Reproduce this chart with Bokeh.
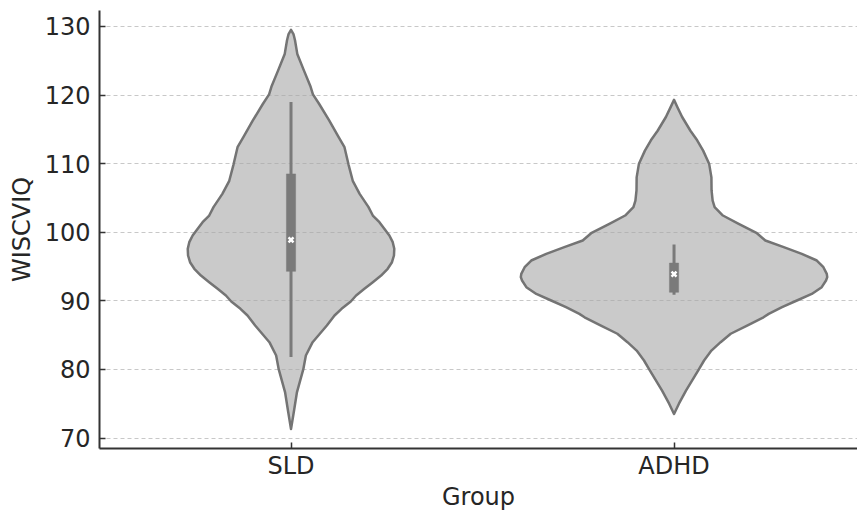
from bokeh.plotting import figure
from bokeh.models import Range1d, FixedTicker
from bokeh.embed import file_html
from bokeh.resources import INLINE

# ---------------- data ----------------
groups = ["SLD", "ADHD"]
group_pos = [0, 1]
y_ticks = [70, 80, 90, 100, 110, 120, 130]

# violin outlines: WISCVIQ value and relative density (widest = 1.0)
sld_values = [129.5, 128.9, 128.0, 126.0, 123.6, 121.2, 120.1, 118.7, 116.3, 113.9,
              112.4, 109.9, 107.5, 105.6, 103.7, 102.44, 101.46, 100.5, 99.52, 98.55,
              97.58, 96.61, 95.63, 94.67, 93.69, 92.72, 91.75, 90.78, 89.9, 88.84,
              87.86, 86.4, 83.97, 82.03, 80.0, 76.7, 73.76, 71.3]
sld_density = [0.0, 0.016, 0.026, 0.041, 0.084, 0.128, 0.143, 0.184, 0.249, 0.31,
               0.349, 0.375, 0.403, 0.448, 0.505, 0.534, 0.577, 0.609, 0.642, 0.664,
               0.674, 0.672, 0.659, 0.631, 0.588, 0.534, 0.479, 0.425, 0.39, 0.33,
               0.284, 0.234, 0.141, 0.097, 0.08, 0.039, 0.018, 0.0]

adhd_values = [119.3, 118.2, 116.8, 114.8, 113.4, 111.9, 110.0, 108.0, 106.1, 104.6,
               103.65, 102.44, 101.23, 99.86, 98.8, 97.82, 96.85, 95.88, 94.9, 93.94,
               93.45, 92.96, 91.99, 91.0, 90.05, 89.07, 88.1, 87.6, 86.4, 85.2,
               83.97, 82.75, 81.3, 80.0, 76.9, 75.0, 73.5]
adhd_density = [0.0, 0.023, 0.053, 0.107, 0.151, 0.19, 0.229, 0.244, 0.245, 0.252,
                0.265, 0.319, 0.422, 0.541, 0.596, 0.716, 0.834, 0.932, 0.975, 0.997,
                1.0, 0.992, 0.964, 0.899, 0.802, 0.705, 0.618, 0.584, 0.477, 0.37,
                0.304, 0.244, 0.196, 0.162, 0.078, 0.032, 0.0]

# box statistics per group
whisker_low = [81.8, 90.9]
q1 = [94.3, 91.25]
median = [98.9, 93.9]
q3 = [108.5, 95.5]
whisker_high = [119.0, 98.2]

# ---------------- styling ----------------
FONT = "DejaVu Sans"
TEXT = "#262626"
SPINE = "#333333"
VIOLIN_FILL = "#a6a6a6"
VIOLIN_LINE = "#747474"
BOX = "#7a7a7a"
HALF_WIDTH = 0.4

p = figure(width=857, height=513, output_backend="svg", toolbar_location=None,
           x_range=Range1d(-0.5, 1.479), y_range=Range1d(68.47, 132.33),
           min_border_left=99, min_border_top=10, min_border_right=0,
           min_border_bottom=65)
p.outline_line_color = None
p.background_fill_color = "white"

violins = [(sld_values, sld_density), (adhd_values, adhd_density)]
for pos, (vals, dens) in zip(group_pos, violins):
    right_x = [pos + d * HALF_WIDTH for d in dens]
    left_x = [pos - d * HALF_WIDTH for d in dens]
    xs = right_x + left_x[::-1]
    ys = list(vals) + list(vals)[::-1]
    p.patch(xs, ys, fill_color=VIOLIN_FILL, fill_alpha=0.6,
            line_color=VIOLIN_LINE, line_width=2.5, line_join="round")

p.segment(x0=group_pos, y0=whisker_low, x1=group_pos, y1=whisker_high,
          line_color=BOX, line_width=3)
p.vbar(x=group_pos, width=0.024, bottom=q1, top=q3, fill_color=BOX,
       line_color=BOX, line_width=0.5)
p.scatter(x=group_pos, y=median, marker="x", size=7, line_color="white",
          line_width=2.5)

# axes
p.xaxis.ticker = FixedTicker(ticks=group_pos)
p.xaxis.major_label_overrides = {pos: g for pos, g in zip(group_pos, groups)}
p.yaxis.ticker = FixedTicker(ticks=y_ticks)
p.xaxis.axis_label = "Group"
p.yaxis.axis_label = "WISCVIQ"

for ax in (p.xaxis, p.yaxis):
    ax.axis_line_color = SPINE
    ax.axis_line_width = 2
    ax.major_tick_line_color = SPINE
    ax.major_tick_line_width = 1.5
    ax.major_tick_in = 6
    ax.major_tick_out = 0
    ax.minor_tick_line_color = None
    ax.major_label_text_font = FONT
    ax.major_label_text_font_size = "24px"
    ax.major_label_text_color = TEXT
    ax.axis_label_text_font = FONT
    ax.axis_label_text_font_size = "24px"
    ax.axis_label_text_font_style = "normal"
    ax.axis_label_text_color = TEXT

p.yaxis.major_label_standoff = 9
p.yaxis.axis_label_standoff = 6
p.xaxis.major_label_standoff = 3
p.xaxis.axis_label_standoff = 0

p.xgrid.grid_line_color = None
p.ygrid.grid_line_color = "#c8c8c8"
p.ygrid.grid_line_dash = "4 3"
p.ygrid.grid_line_width = 1

open("out.html", "w").write(file_html(p, INLINE))
